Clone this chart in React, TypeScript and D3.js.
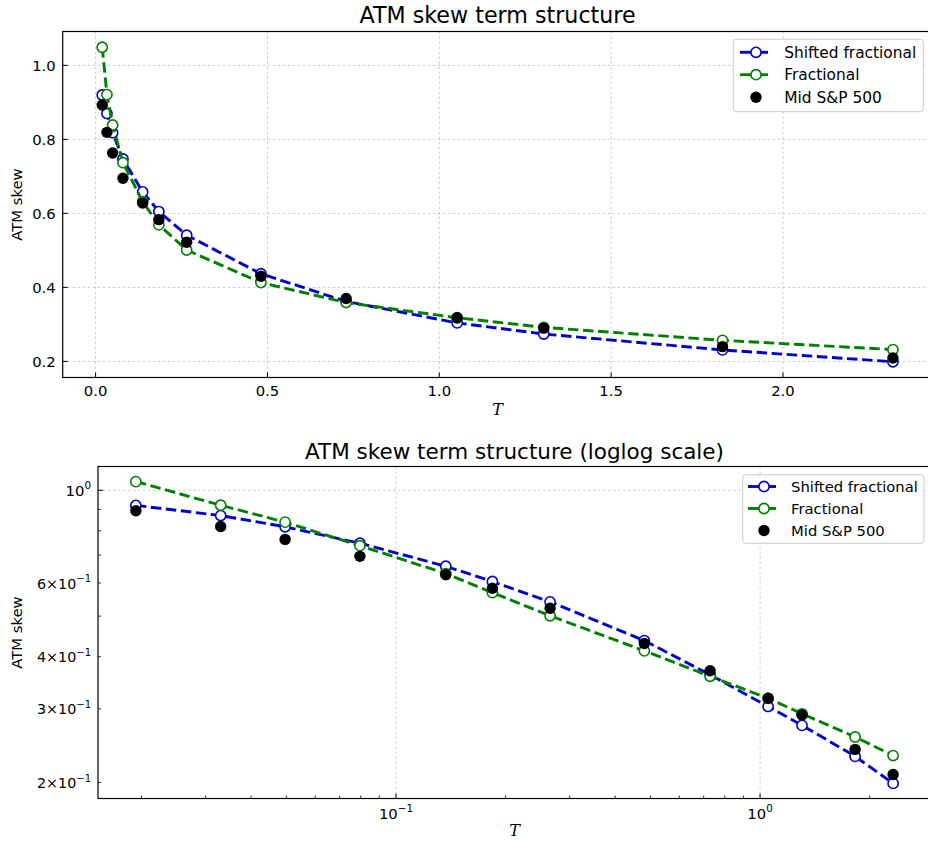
import React from "react";
import * as d3 from "d3";

// ---- data ----
const T = [0.0193, 0.033, 0.0496, 0.0796, 0.137, 0.184, 0.265, 0.481, 0.729, 1.052, 1.304, 1.824, 2.32];
const shiftedFractional = [0.92, 0.87, 0.818, 0.747, 0.658, 0.605, 0.541, 0.437, 0.362, 0.304, 0.274, 0.231, 0.199];
const fractional = [1.049, 0.921, 0.839, 0.737, 0.632, 0.569, 0.501, 0.413, 0.359, 0.318, 0.292, 0.257, 0.232];
const midSP500 = [0.893, 0.819, 0.763, 0.695, 0.628, 0.583, 0.522, 0.43, 0.37, 0.318, 0.29, 0.24, 0.209];

const linXTicks = [0, 0.5, 1.0, 1.5, 2.0];
const linYTicks = [0.2, 0.4, 0.6, 0.8, 1.0];
const logXMajor = [0.1, 1];
const logXMajorExp = ["−1", "0"];
const logYMajor = [1];
const logYLabeledMinor = [0.6, 0.4, 0.3, 0.2];
const logYLabeledMinorMant = ["6", "4", "3", "2"];

const legendLabels = ["Shifted fractional", "Fractional", "Mid S&P 500"];

const BLUE = "#0000cd";
const GREEN = "#008000";
const FONT = "DejaVu Sans";

const allY = [...shiftedFractional, ...fractional, ...midSP500];

function padLin(lo: number, hi: number) {
  const m = (hi - lo) * 0.05;
  return [lo - m, hi + m];
}
function padLog(lo: number, hi: number) {
  const a = Math.log10(lo), b = Math.log10(hi);
  const m = (b - a) * 0.05;
  return [Math.pow(10, a - m), Math.pow(10, b + m)];
}

const xMin = d3.min(T)!, xMax = d3.max(T)!;
const yMin = d3.min(allY)!, yMax = d3.max(allY)!;

// top chart
const top = { left: 62.7, right: 932.5, top: 31.5, bottom: 377.5 };
const xLin = d3.scaleLinear().domain(padLin(xMin, xMax)).range([top.left, top.right]);
const yLin = d3.scaleLinear().domain(padLin(yMin, yMax)).range([top.bottom, top.top]);

// bottom chart
const bot = { left: 98, right: 931, top: 466.5, bottom: 798.5 };
const xLog = d3.scaleLog().domain(padLog(xMin, xMax)).range([bot.left, bot.right]);
const yLog = d3.scaleLog().domain(padLog(yMin, yMax)).range([bot.bottom, bot.top]);

const LW = 2.9;
const dash = "10.5,4.6";
const MR = 5.1;
const gridStyle = { stroke: "#b8b8b8", strokeWidth: 0.7, strokeDasharray: "2.6,2.4" };

function Series({ xs, ys, color, x, y }: any) {
  const line = d3.line<number>().x((_, i) => x(xs[i])).y((d) => y(d));
  return (
    <g>
      <path d={line(ys) || ""} fill="none" stroke={color} strokeWidth={LW} strokeDasharray={dash} />
      {ys.map((v: number, i: number) => (
        <circle key={i} cx={x(xs[i])} cy={y(v)} r={MR} fill="white" stroke={color} strokeWidth={1.6} />
      ))}
    </g>
  );
}

function Dots({ xs, ys, x, y }: any) {
  return (
    <g>
      {ys.map((v: number, i: number) => (
        <circle key={i} cx={x(xs[i])} cy={y(v)} r={5.7} fill="black" />
      ))}
    </g>
  );
}

function Legend({ x, y, w, h, rows, handleX0, handleX1, textX, fs }: any) {
  return (
    <g>
      <rect x={x} y={y} width={w} height={h} rx={3} fill="white" fillOpacity={0.8} stroke="#cccccc" strokeWidth={1} />
      {[BLUE, GREEN].map((c, i) => (
        <g key={i}>
          <line x1={handleX0} x2={handleX1} y1={rows[i]} y2={rows[i]} stroke={c} strokeWidth={LW} />
          <circle cx={(handleX0 + handleX1) / 2 + 2} cy={rows[i]} r={MR} fill="white" stroke={c} strokeWidth={1.6} />
        </g>
      ))}
      <circle cx={(handleX0 + handleX1) / 2 + 2} cy={rows[2]} r={5.7} fill="black" />
      {legendLabels.map((t, i) => (
        <text key={t} x={textX} y={rows[i]} dy="0.36em" fontSize={fs} fontFamily={FONT} fill="#000">
          {t}
        </text>
      ))}
    </g>
  );
}

function Sup({ base, exp, x, y, anchor, fs }: any) {
  return (
    <text x={x} y={y} textAnchor={anchor} fontSize={fs} fontFamily={FONT} fill="#000">
      {base}
      <tspan fontSize={fs * 0.7} dy={-fs * 0.45}>{exp}</tspan>
    </text>
  );
}

export default function App() {
  const xMinor: number[] = [];
  for (const dec of [0.01, 0.1, 1]) for (let k = 2; k <= 9; k++) {
    const v = k * dec;
    const [a, b] = xLog.domain();
    if (v > a && v < b) xMinor.push(v);
  }
  const yMinor: number[] = [];
  for (let k = 2; k <= 9; k++) {
    const v = k * 0.1;
    const [a, b] = yLog.domain();
    if (v > a && v < b) yMinor.push(v);
  }

  return (
    <svg width={928} height={842} style={{ position: "absolute", left: 0, top: 0, background: "white" }}>
      <rect width={928} height={842} fill="white" />
      {/* ===== TOP ===== */}
      <g>
        {linXTicks.map((t) => (
          <line key={"gx" + t} x1={xLin(t)} x2={xLin(t)} y1={top.top} y2={top.bottom} {...gridStyle} />
        ))}
        {linYTicks.map((t) => (
          <line key={"gy" + t} x1={top.left} x2={top.right} y1={yLin(t)} y2={yLin(t)} {...gridStyle} />
        ))}
        <Series xs={T} ys={shiftedFractional} color={BLUE} x={xLin} y={yLin} />
        <Series xs={T} ys={fractional} color={GREEN} x={xLin} y={yLin} />
        <Dots xs={T} ys={midSP500} x={xLin} y={yLin} />
        <rect x={top.left} y={top.top} width={top.right - top.left} height={top.bottom - top.top} fill="none" stroke="black" strokeWidth={1.2} />
        {linXTicks.map((t) => (
          <g key={"tx" + t}>
            <line x1={xLin(t)} x2={xLin(t)} y1={top.bottom} y2={top.bottom - 5} stroke="black" strokeWidth={1} />
            <text x={xLin(t)} y={top.bottom + 18} textAnchor="middle" fontSize={14.8} fontFamily={FONT}>
              {t.toFixed(1)}
            </text>
          </g>
        ))}
        {linYTicks.map((t) => (
          <g key={"ty" + t}>
            <line x1={top.left} x2={top.left + 5} y1={yLin(t)} y2={yLin(t)} stroke="black" strokeWidth={1} />
            <text x={top.left - 7} y={yLin(t)} dy="0.36em" textAnchor="end" fontSize={14.8} fontFamily={FONT}>
              {t.toFixed(1)}
            </text>
          </g>
        ))}
        <text x={(top.left + top.right) / 2} y={23} textAnchor="middle" fontSize={22.2} fontFamily={FONT}>
          ATM skew term structure
        </text>
        <text x={(top.left + top.right) / 2} y={415} textAnchor="middle" fontSize={16} fontFamily="DejaVu Serif" fontStyle="italic">
          T
        </text>
        <text transform={`translate(22,${(top.top + top.bottom) / 2}) rotate(-90)`} textAnchor="middle" fontSize={14.8} fontFamily={FONT}>
          ATM skew
        </text>
        <Legend x={733.3} y={39.3} w={190} h={72.4} rows={[52.3, 74.7, 97.3]} handleX0={740} handleX1={768} textX={784.3} fs={15.4} />
      </g>

      {/* ===== BOTTOM ===== */}
      <g>
        {logXMajor.map((t) => (
          <line key={"lgx" + t} x1={xLog(t)} x2={xLog(t)} y1={bot.top} y2={bot.bottom} {...gridStyle} />
        ))}
        {logYMajor.map((t) => (
          <line key={"lgy" + t} x1={bot.left} x2={bot.right} y1={yLog(t)} y2={yLog(t)} {...gridStyle} />
        ))}
        <Series xs={T} ys={shiftedFractional} color={BLUE} x={xLog} y={yLog} />
        <Series xs={T} ys={fractional} color={GREEN} x={xLog} y={yLog} />
        <Dots xs={T} ys={midSP500} x={xLog} y={yLog} />
        <rect x={bot.left} y={bot.top} width={bot.right - bot.left} height={bot.bottom - bot.top} fill="none" stroke="black" strokeWidth={1.2} />
        {xMinor.map((t) => (
          <line key={"mx" + t} x1={xLog(t)} x2={xLog(t)} y1={bot.bottom} y2={bot.bottom - 3} stroke="black" strokeWidth={0.8} />
        ))}
        {yMinor.map((t) => (
          <line key={"my" + t} x1={bot.left} x2={bot.left + 3} y1={yLog(t)} y2={yLog(t)} stroke="black" strokeWidth={0.8} />
        ))}
        {logXMajor.map((t, i) => (
          <g key={"ltx" + t}>
            <line x1={xLog(t)} x2={xLog(t)} y1={bot.bottom} y2={bot.bottom - 5} stroke="black" strokeWidth={1} />
            <Sup base="10" exp={logXMajorExp[i]} x={xLog(t)} y={bot.bottom + 20} anchor="middle" fs={14.8} />
          </g>
        ))}
        {logYMajor.map((t) => (
          <g key={"lty" + t}>
            <line x1={bot.left} x2={bot.left + 5} y1={yLog(t)} y2={yLog(t)} stroke="black" strokeWidth={1} />
            <Sup base="10" exp="0" x={bot.left - 7} y={yLog(t) + 5.5} anchor="end" fs={14.8} />
          </g>
        ))}
        {logYLabeledMinor.map((t, i) => (
          <Sup key={"lmy" + t} base={`${logYLabeledMinorMant[i]}×10`} exp="−1" x={bot.left - 7} y={yLog(t) + 5.5} anchor="end" fs={14.3} />
        ))}
        <text x={(bot.left + bot.right) / 2} y={836} textAnchor="middle" fontSize={16} fontFamily="DejaVu Serif" fontStyle="italic">
          T
        </text>
        <text x={(bot.left + bot.right) / 2} y={459} textAnchor="middle" fontSize={21.5} fontFamily={FONT}>
          ATM skew term structure (loglog scale)
        </text>
        <text transform={`translate(22,${(bot.top + bot.bottom) / 2}) rotate(-90)`} textAnchor="middle" fontSize={14.8} fontFamily={FONT}>
          ATM skew
        </text>
        <Legend x={742.7} y={474.7} w={181.3} h={68.6} rows={[486.5, 508.5, 530.5]} handleX0={748} handleX1={776} textX={791} fs={14.8} />
      </g>
    </svg>
  );
}
